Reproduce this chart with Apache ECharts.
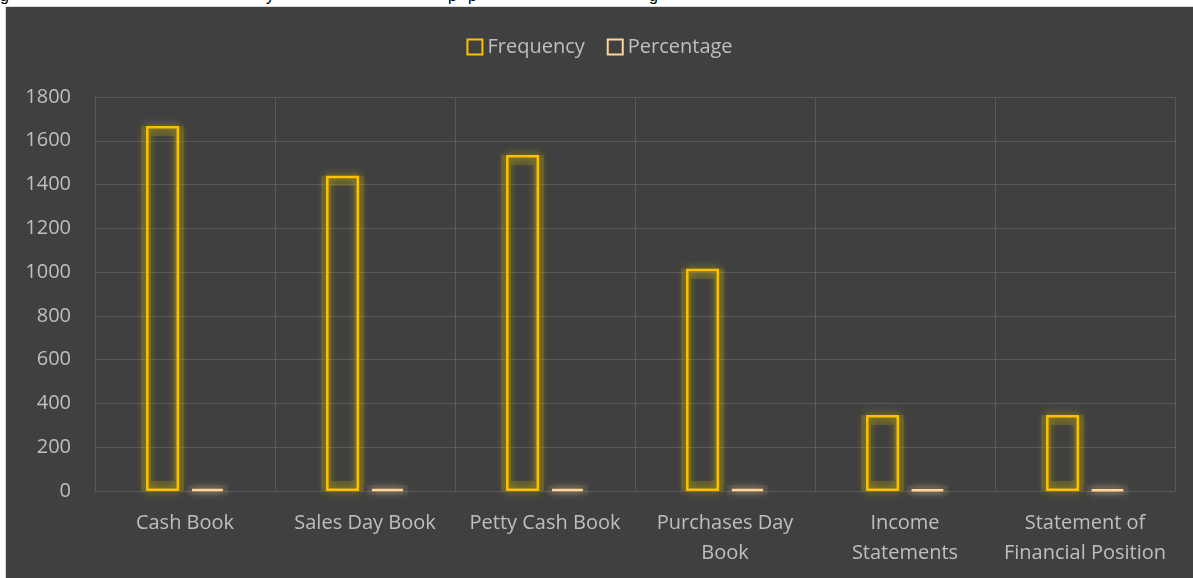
<!DOCTYPE html>
<html>
<head>
<meta charset="utf-8">
<script src="https://cdn.jsdelivr.net/npm/echarts@6/dist/echarts.min.js"></script>
<style>
  html, body { margin: 0; padding: 0; background: #ffffff; width: 1193px; height: 578px; overflow: hidden; }
  #cut { position: absolute; left: 0; top: 0; width: 1193px; height: 6px; overflow: hidden; }
  #cut span { position: absolute; top: -13px; font-family: "Liberation Sans", sans-serif; font-size: 16px; color: #000; }
  #frame { position: absolute; left: 5px; top: 6px; width: 1188px; height: 572px; background: #d9d9d9; }
  #chart { position: absolute; left: 6px; top: 7px; width: 1187px; height: 571px; }
</style>
</head>
<body>
<div id="cut"><span style="left:0px">g</span><span style="left:266px">y</span><span style="left:448px">p</span><span style="left:468px">p</span><span style="left:649px">g</span></div>
<div id="frame"></div>
<div id="chart"></div>
<script>
const categories = ["Cash Book", "Sales Day Book", "Petty Cash Book", "Purchases Day\nBook", "Income\nStatements", "Statement of\nFinancial Position"];
const frequency = [1667, 1440, 1535, 1015, 347, 347];
const percentage = [10, 9, 10, 8, 6, 6];
const yTicks = { min: 0, max: 1800, interval: 200 };
const seriesNames = ["Frequency", "Percentage"];

const chart = echarts.init(document.getElementById('chart'), null, { renderer: 'canvas' });
const font = '"Open Sans", "Noto Sans", sans-serif';
const gold = '#FFC000';
const peach = '#FFD699';

const glowStyle = (c) => ({ color: 'rgba(0,0,0,0)', borderColor: c, borderWidth: 10, shadowBlur: 10, shadowColor: c });

chart.setOption({
  backgroundColor: '#404040',
  animation: false,
  legend: {
    data: seriesNames,
    top: 25,
    left: 'center',
    itemWidth: 15,
    itemHeight: 15,
    itemGap: 22,
    textStyle: { color: '#bfbfbf', fontSize: 20, fontFamily: font },
    icon: 'rect'
  },
  grid: { left: 89, right: 18, top: 90, bottom: 87 },
  xAxis: [{
    type: 'category',
    data: categories,
    boundaryGap: true,
    axisTick: { show: false },
    axisLine: { show: true, lineStyle: { color: '#595959', width: 1 } },
    splitLine: { show: true, lineStyle: { color: '#595959', width: 1 } },
    axisLabel: { color: '#bfbfbf', fontSize: 20, fontFamily: font, margin: 17, lineHeight: 30, interval: 0 }
  }, {
    type: 'category',
    data: categories,
    boundaryGap: true,
    show: false,
    position: 'bottom'
  }],
  yAxis: {
    type: 'value',
    min: yTicks.min, max: yTicks.max, interval: yTicks.interval,
    axisLine: { show: false },
    axisTick: { show: false },
    splitLine: { lineStyle: { color: '#595959', width: 1 } },
    axisLabel: { color: '#bfbfbf', fontSize: 20, fontFamily: font, margin: 24, formatter: function (v) { return String(v); } }
  },
  series: [
    {
      name: 'glowF', type: 'bar', data: frequency, xAxisIndex: 1, silent: true, z: 1,
      barWidth: 43, barGap: '4.65%',
      itemStyle: glowStyle('rgba(215,200,0,0.16)')
    },
    {
      name: 'glowP', type: 'bar', data: percentage, xAxisIndex: 1, silent: true, z: 1,
      barWidth: 43,
      itemStyle: glowStyle('rgba(255,214,153,0.07)')
    },
    {
      name: seriesNames[0], type: 'bar', data: frequency, z: 3,
      barWidth: 33, barGap: '36%',
      itemStyle: { color: 'rgba(0,0,0,0)', borderColor: gold, borderWidth: 2.5, shadowBlur: 8, shadowColor: 'rgba(230,210,0,0.8)' }
    },
    {
      name: seriesNames[1], type: 'bar', data: percentage, z: 3,
      barWidth: 33,
      itemStyle: { color: 'rgba(0,0,0,0)', borderColor: peach, borderWidth: 2.5, shadowBlur: 8, shadowColor: 'rgba(255,224,160,0.8)' }
    }
  ]
});
</script>
</body>
</html>
